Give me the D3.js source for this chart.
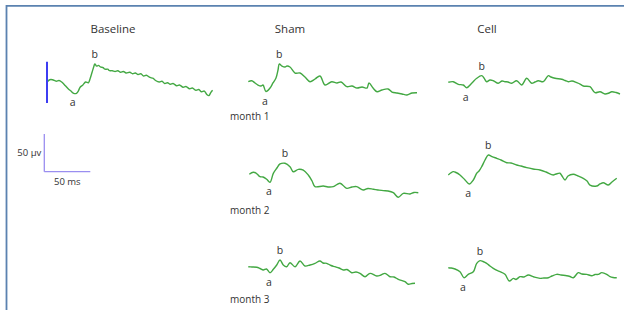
<!DOCTYPE html>
<html><head><meta charset="utf-8">
<script src="https://cdn.jsdelivr.net/npm/d3@7"></script>
<style>
html,body{margin:0;padding:0;background:#fff;}
svg{display:block;}
text{font-family:"Open Sans","Liberation Sans",sans-serif;fill:#333;}
</style></head>
<body><svg id="chart" width="624" height="310"></svg>
<script>
// ---- data: time (ms) and amplitude (µV, relative to trace start) ----
const columnTitles = ["Baseline", "Sham", "Cell"];
const rowLabels = ["month 1", "month 2", "month 3"];
const scaleBarUV = 50, scaleBarMS = 50;
const scaleBarLabels = ["50 µv", "50 ms"];
const stimulusMarkerUV = [27, -28];
const waveWindowMS = 60; // a- and b-waves are read within this early window

const baseline = [[0,0],[3,3],[6,3],[10,1],[13,2],[16,0],[20,-5],[23,-9],[26,-12],[29,-15],[32,-15],[34,-12],[36,-7],[39,-4],[42,0],[45,-1],[47,5],[49,13],[51,21],[52,24],[54,21],[56,22],[58,20],[61,19],[63,17],[66,17],[68,15],[71,15],[74,14],[77,15],[80,13],[83,14],[86,12],[90,13],[93,11],[96,12],[99,10],[102,11],[105,8],[108,9],[112,6],[115,5],[118,2],[122,0],[125,1],[128,-2],[131,-1],[134,-3],[137,-2],[141,-5],[144,-4],[148,-7],[151,-6],[155,-9],[158,-8],[162,-11],[165,-10],[168,-13],[171,-12],[174,-17],[176,-18],[178,-14],[180,-11]];

const shamM1 = [[0,0],[3.7,1.3],[7.3,-1.7],[10.5,-4.4],[13.8,-5.7],[16,-4.4],[19.2,-13],[23.6,-8.4],[26.8,-1.7],[30.1,4.9],[32.3,15.5],[33.7,23.5],[36.6,20.8],[39.9,19.5],[42.1,20.8],[45.3,19.5],[50.8,11.5],[56.2,11.5],[61.6,6.2],[67.1,0],[72.5,3.6],[77.9,7.6],[83.4,-4.4],[90.7,0],[96.4,-1.7],[100.8,-0.4],[107,-6.6],[112.7,-5.7],[118.2,-8.4],[123.6,-7],[129,-8.4],[131.2,-1.7],[135.6,-8.4],[139.9,-13.3],[145.3,-11],[151.9,-9.7],[156.2,-13.7],[161.6,-15],[167.1,-16.3],[172.5,-17.6],[178,-15],[183.4,-14.6]];

const shamM2 = [[0,0],[4.3,2.7],[7.3,1.7],[11.6,-3.2],[14.9,-3.6],[18.9,-6.6],[22.5,-10.6],[26.1,1.3],[29.8,8],[33.4,13.7],[38.8,14.6],[44.2,10.1],[47.8,3.4],[53.3,6.6],[58.7,5.7],[64.1,-0.9],[68.2,-8.9],[71.4,-16.4],[80.4,-15.5],[85.5,-16.8],[91.3,-16.4],[98.6,-11.9],[105.9,-18.6],[111.6,-16.8],[116.7,-16.4],[123.9,-20.8],[129,-18.8],[134.8,-19.9],[139.9,-20.8],[145.7,-21.7],[150.8,-22.1],[156.5,-24.4],[162,-30.5],[167.4,-25.2],[174.7,-26.1],[179,-24.1],[183.7,-24.4]];

const shamM3 = [[0,0],[4,-0.4],[9.1,-0.8],[12.7,-2.4],[16.3,-4.4],[19.8,-3],[23.6,-8],[27.2,-3.4],[30.9,2.3],[34.5,8.9],[38,2.3],[41.7,0],[45.3,5.3],[50.8,0],[56.2,7.6],[61.6,0.9],[67.1,2.3],[72.5,4.5],[77.9,7.6],[81.2,4.9],[85.2,4.5],[89.9,1.6],[94.2,0],[98.6,-1.7],[103.3,-4.4],[107.3,-3.7],[112.4,-8],[117.1,-7],[121.4,-8.8],[126.9,-13.3],[132.3,-8.8],[139.6,-12.3],[144.2,-11],[148.6,-8.8],[154,-13.3],[158.4,-13.7],[163.1,-16.7],[170.3,-19.9],[173.9,-23.3],[177.9,-22.3],[181.2,-22]];

const cellM1 = [[0,0],[5.4,0.8],[10.9,-2.7],[16.3,-3.6],[20,-7.2],[25.4,-1.3],[30.9,5.3],[36.3,8.8],[38.8,5.7],[41.7,0.8],[45.3,3],[48.9,2.1],[54.3,-1.3],[58.4,1.7],[61.6,0.8],[64.9,0.4],[68.9,-1.3],[74.3,2.1],[79.8,-3.6],[85.2,5.3],[90.7,-1.3],[94.2,0.4],[97.8,2.1],[103.3,0.8],[108.7,8.8],[111.6,7],[116,5.3],[123.3,4],[126.9,2.4],[130.4,0.8],[134.5,1.7],[139.6,-0.5],[143.2,-2.3],[146.8,-4.9],[154,-5.8],[159.5,-13.8],[164.9,-12.5],[170.3,-15.5],[174.7,-14.2],[177.6,-12.5],[182.3,-13.5],[186.6,-15.5]];

const cellM2 = [[0,0],[5.4,4.4],[8.4,3.3],[12.7,0],[18.2,-6.6],[22.8,-11.9],[27.2,-6.6],[30.9,2.3],[33.4,5.3],[36.3,11],[39.9,19.9],[43.5,26.5],[47.5,24.5],[52.6,22.1],[57.3,19.9],[63.5,16.3],[68.2,15.9],[74.3,13.3],[79,11.9],[85.2,9.7],[92.1,8],[99.7,6.6],[106.2,4],[114.1,0],[117.1,1.3],[121.4,2.3],[123.6,-1.3],[126.9,-6.6],[130.1,-1.3],[135.9,0.9],[141,-1.3],[146.7,-4.4],[150.8,-8],[154,-13.3],[161.3,-14.6],[164.9,-11.9],[168.5,-10.2],[173.9,-13.3],[177.9,-9.3],[183.1,-4.4]];

const cellM3 = [[0,0],[2.9,-0.4],[7.3,-1.7],[12.7,-5.3],[17.1,-13.3],[21.7,-8.8],[27.2,-5.3],[30.9,5.8],[34.5,9.3],[37.7,8.2],[41.7,5.8],[45.3,2.3],[48.9,-0.8],[52.9,-3.7],[56.2,-5.3],[61.6,-8.8],[66.3,-17.6],[70.7,-14.1],[73.6,-15.6],[77.9,-11.9],[82.3,-12.3],[87,-9.7],[93.2,-12.3],[99.7,-14.1],[104,-13.7],[108.7,-13.3],[112.7,-11],[117.8,-8.8],[122.5,-9.7],[128.7,-10.6],[132.3,-11.7],[135.9,-13.3],[141.3,-6.6],[145.3,-8.4],[150.4,-8.8],[155.9,-10.6],[159.5,-9],[163.1,-8.8],[166.8,-6.6],[172.2,-8.8],[175.8,-11.9],[179,-13],[183.1,-13.3]];

// ---- layout ----
const PX_PER_MS = 0.92, PX_PER_UV = 0.754;
const GREEN = "#43a843";
const panels = [
  {data: baseline, x0: 47,    y0: 82},
  {data: shamM1,   x0: 248.3, y0: 81.7},
  {data: shamM2,   x0: 249.3, y0: 174.3},
  {data: shamM3,   x0: 248.3, y0: 266.7},
  {data: cellM1,   x0: 448.3, y0: 82.3},
  {data: cellM2,   x0: 448.3, y0: 175},
  {data: cellM3,   x0: 448.3, y0: 267.7}
];

const svg = d3.select("#chart");

// frame (top and left border)
svg.append("path")
  .attr("d", "M6.5,310 L6.5,5.8 L624,5.8")
  .attr("fill", "none").attr("stroke", "#5b82b0").attr("stroke-width", 1.8);

// column titles
const titleX = [113, 290, 487];
svg.selectAll("text.title").data(columnTitles).join("text")
  .attr("class", "title")
  .attr("x", (d, i) => titleX[i]).attr("y", 33)
  .attr("text-anchor", "middle").attr("font-size", 11.5)
  .text(d => d);

// row labels
const rowY = [120, 214, 303];
svg.selectAll("text.row").data(rowLabels).join("text")
  .attr("class", "row")
  .attr("x", 230).attr("y", (d, i) => rowY[i])
  .attr("font-size", 10)
  .text(d => d);

function makeScales(p) {
  const x = d3.scaleLinear().domain([0, 100]).range([p.x0, p.x0 + 100 * PX_PER_MS]);
  const y = d3.scaleLinear().domain([0, 100]).range([p.y0, p.y0 - 100 * PX_PER_UV]);
  return {x, y};
}

panels.forEach((p, i) => {
  const {x, y} = makeScales(p);
  const line = d3.line().x(d => x(d[0])).y(d => y(d[1])).curve(d3.curveCatmullRom.alpha(0.5));
  const g = svg.append("g");
  g.append("path").datum(p.data)
    .attr("d", line)
    .attr("fill", "none").attr("stroke", GREEN)
    .attr("stroke-width", 1.4).attr("stroke-linejoin", "round");
  // a-wave trough and b-wave peak inside the early window
  const early = p.data.filter(d => d[0] <= waveWindowMS);
  const b = d3.greatest(early, d => d[1]);
  const a = d3.least(early.filter(d => d[0] < b[0]), d => d[1]);
  g.append("text").attr("x", x(a[0]) - 1).attr("y", y(a[1]) + 13)
    .attr("text-anchor", "middle").attr("font-size", 10.5).text("a");
  g.append("text").attr("x", x(b[0])).attr("y", y(b[1]) - 6)
    .attr("text-anchor", "middle").attr("font-size", 10.5).text("b");
  if (i === 0) {
    // stimulus marker
    g.append("line")
      .attr("x1", x(0)).attr("x2", x(0))
      .attr("y1", y(stimulusMarkerUV[0])).attr("y2", y(stimulusMarkerUV[1]))
      .attr("stroke", "#3d3df2").attr("stroke-width", 2);
  }
});

// scale bar
const sb = makeScales({x0: 44.3, y0: 171.7});
const SB = "#9a8ef0";
svg.append("line").attr("x1", sb.x(0)).attr("x2", sb.x(0))
  .attr("y1", sb.y(0)).attr("y2", sb.y(scaleBarUV))
  .attr("stroke", SB).attr("stroke-width", 1.3);
svg.append("line").attr("x1", sb.x(0)).attr("x2", sb.x(scaleBarMS))
  .attr("y1", sb.y(0)).attr("y2", sb.y(0))
  .attr("stroke", SB).attr("stroke-width", 1.3);
svg.append("text").attr("x", sb.x(0) - 3).attr("y", sb.y(scaleBarUV / 2) + 3.5)
  .attr("text-anchor", "end").attr("font-size", 9.5).text(scaleBarLabels[0]);
svg.append("text").attr("x", sb.x(scaleBarMS / 2)).attr("y", sb.y(0) + 13)
  .attr("text-anchor", "middle").attr("font-size", 9.5).text(scaleBarLabels[1]);
</script></body></html>
